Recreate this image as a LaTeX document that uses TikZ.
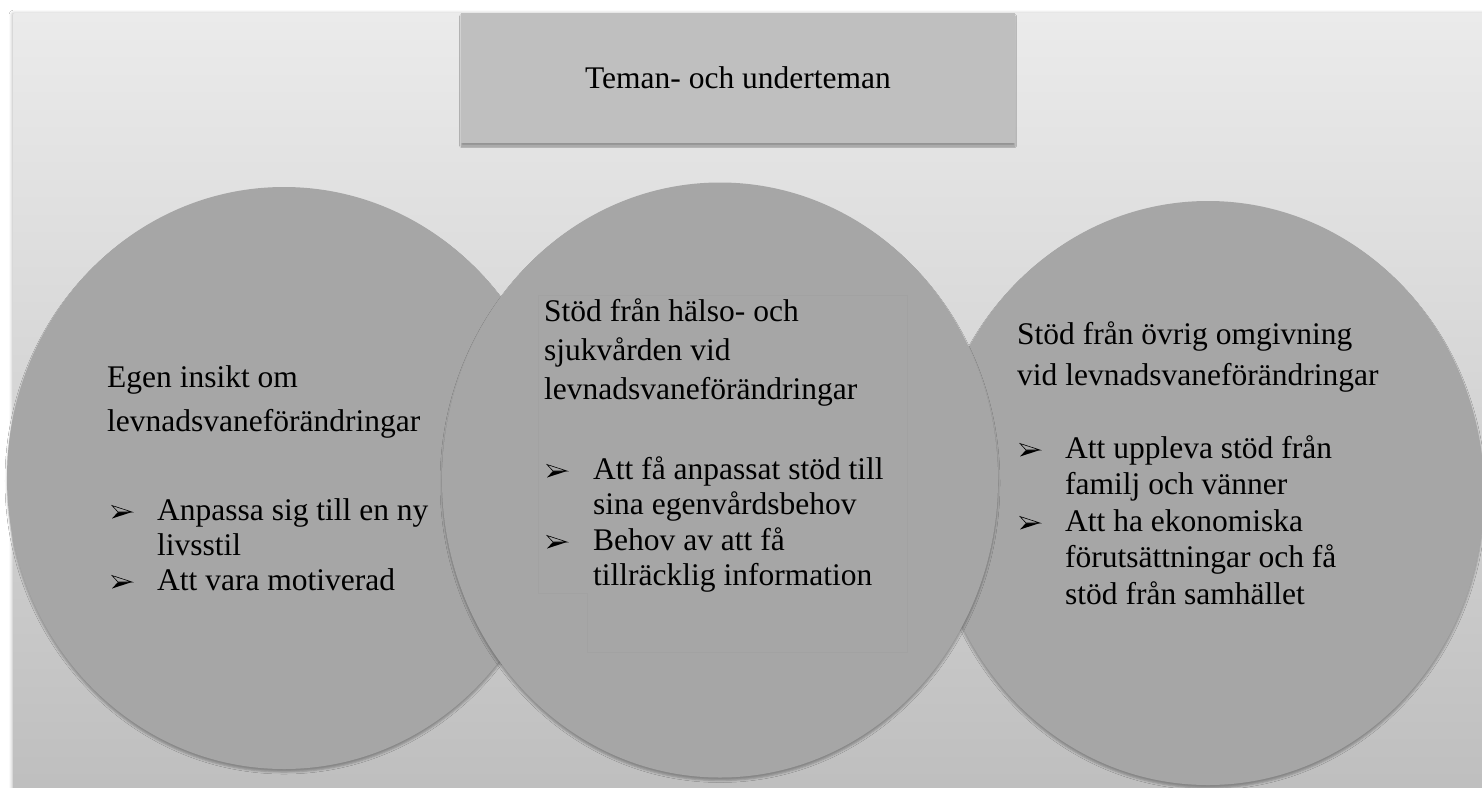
\documentclass[tikz,border=0pt]{standalone}
\usepackage{fontspec}
\setmainfont{Liberation Serif}
\usetikzlibrary{shapes.geometric,shadows.blur}
\definecolor{bgtop}{RGB}{235,235,235}
\definecolor{bgbot}{RGB}{190,190,190}
\definecolor{circfill}{RGB}{166,166,166}
\definecolor{boxfill}{RGB}{191,191,191}
\definecolor{faintline}{RGB}{162,162,162}
\newcommand\bularrow[2]{%
  \fill[black] (#1+6,#2-8) -- (#1+20,#2-8) -- (#1,#2-1.5) -- cycle;
  \filldraw[fill=circfill,draw=black,line width=0.6pt,line join=miter] (#1,#2-14.5) -- (#1+20,#2-8) -- (#1+6,#2-8) -- cycle;
}
\begin{document}
\begin{tikzpicture}[x=1pt,y=-1pt,
  txt/.style={anchor=base west,inner sep=0pt,font=\fontsize{31.5}{36}\selectfont,text=black},
  circ/.style={ellipse,fill=circfill,inner sep=0pt,
    blur shadow={shadow xshift=0pt,shadow yshift=-3pt,shadow blur radius=2pt,shadow opacity=30}},
  titlebox/.style={rectangle,fill=boxfill,inner sep=0pt,minimum width=554pt,minimum height=130pt,
    font=\fontsize{31.5}{36}\selectfont,
    blur shadow={shadow xshift=0pt,shadow yshift=-3pt,shadow blur radius=1.5pt,shadow opacity=35}},
  panel/.style={top color=bgtop,bottom color=bgbot,
    blur shadow={shadow xshift=-1pt,shadow yshift=0pt,shadow blur radius=3pt,shadow opacity=25}}]
\useasboundingbox (0,0) rectangle (1482,787);
\fill[white] (0,0) rectangle (1482,787);
% background panel
\path[panel,rounded corners=2pt] (13,13) rectangle (1495,800);
% title
\node[titlebox] (title) at (738,78) {Teman- och underteman};
% circles
\node[circ,minimum width=554pt,minimum height=582pt] (L) at (284,478) {};
\node[circ,minimum width=552pt,minimum height=584pt] (R) at (1208,493) {};
\node[circ,minimum width=556pt,minimum height=595pt] (M) at (720,480) {};
% faint text-box outline in middle circle
\draw[faintline,line width=0.5pt] (538,295) -- (907,295) -- (907,652) -- (587,652) -- (587,593) -- (538,593) -- cycle;
% left circle text
\node[txt] (l1) at (107,387) {Egen insikt om};
\node[txt] (l2) at (107,431) {levnadsvaneförändringar};
\bularrow{112}{520}
\node[txt] (l3) at (157,520) {Anpassa sig till en ny};
\node[txt] (l4) at (157,555) {livsstil};
\bularrow{112}{590}
\node[txt] (l5) at (157,590) {Att vara motiverad};
% middle circle text
\node[txt] (m1) at (544,321) {Stöd från hälso- och};
\node[txt] (m2) at (544,360) {sjukvården vid};
\node[txt] (m3) at (544,399) {levnadsvaneförändringar};
\bularrow{547}{479}
\node[txt] (m4) at (593,479) {Att få anpassat stöd till};
\node[txt] (m5) at (593,514) {sina egenvårdsbehov};
\bularrow{547}{550}
\node[txt] (m6) at (593,550) {Behov av att få};
\node[txt] (m7) at (593,585) {tillräcklig information};
% right circle text
\node[txt] (r1) at (1017,344) {Stöd från övrig omgivning};
\node[txt] (r2) at (1017,385) {vid levnadsvaneförändringar};
\bularrow{1020}{458}
\node[txt] (r3) at (1065,458) {Att uppleva stöd från};
\node[txt] (r4) at (1065,494) {familj och vänner};
\bularrow{1020}{531}
\node[txt] (r5) at (1065,531) {Att ha ekonomiska};
\node[txt] (r6) at (1065,567) {förutsättningar och få};
\node[txt] (r7) at (1065,604) {stöd från samhället};
\end{tikzpicture}
\end{document}
